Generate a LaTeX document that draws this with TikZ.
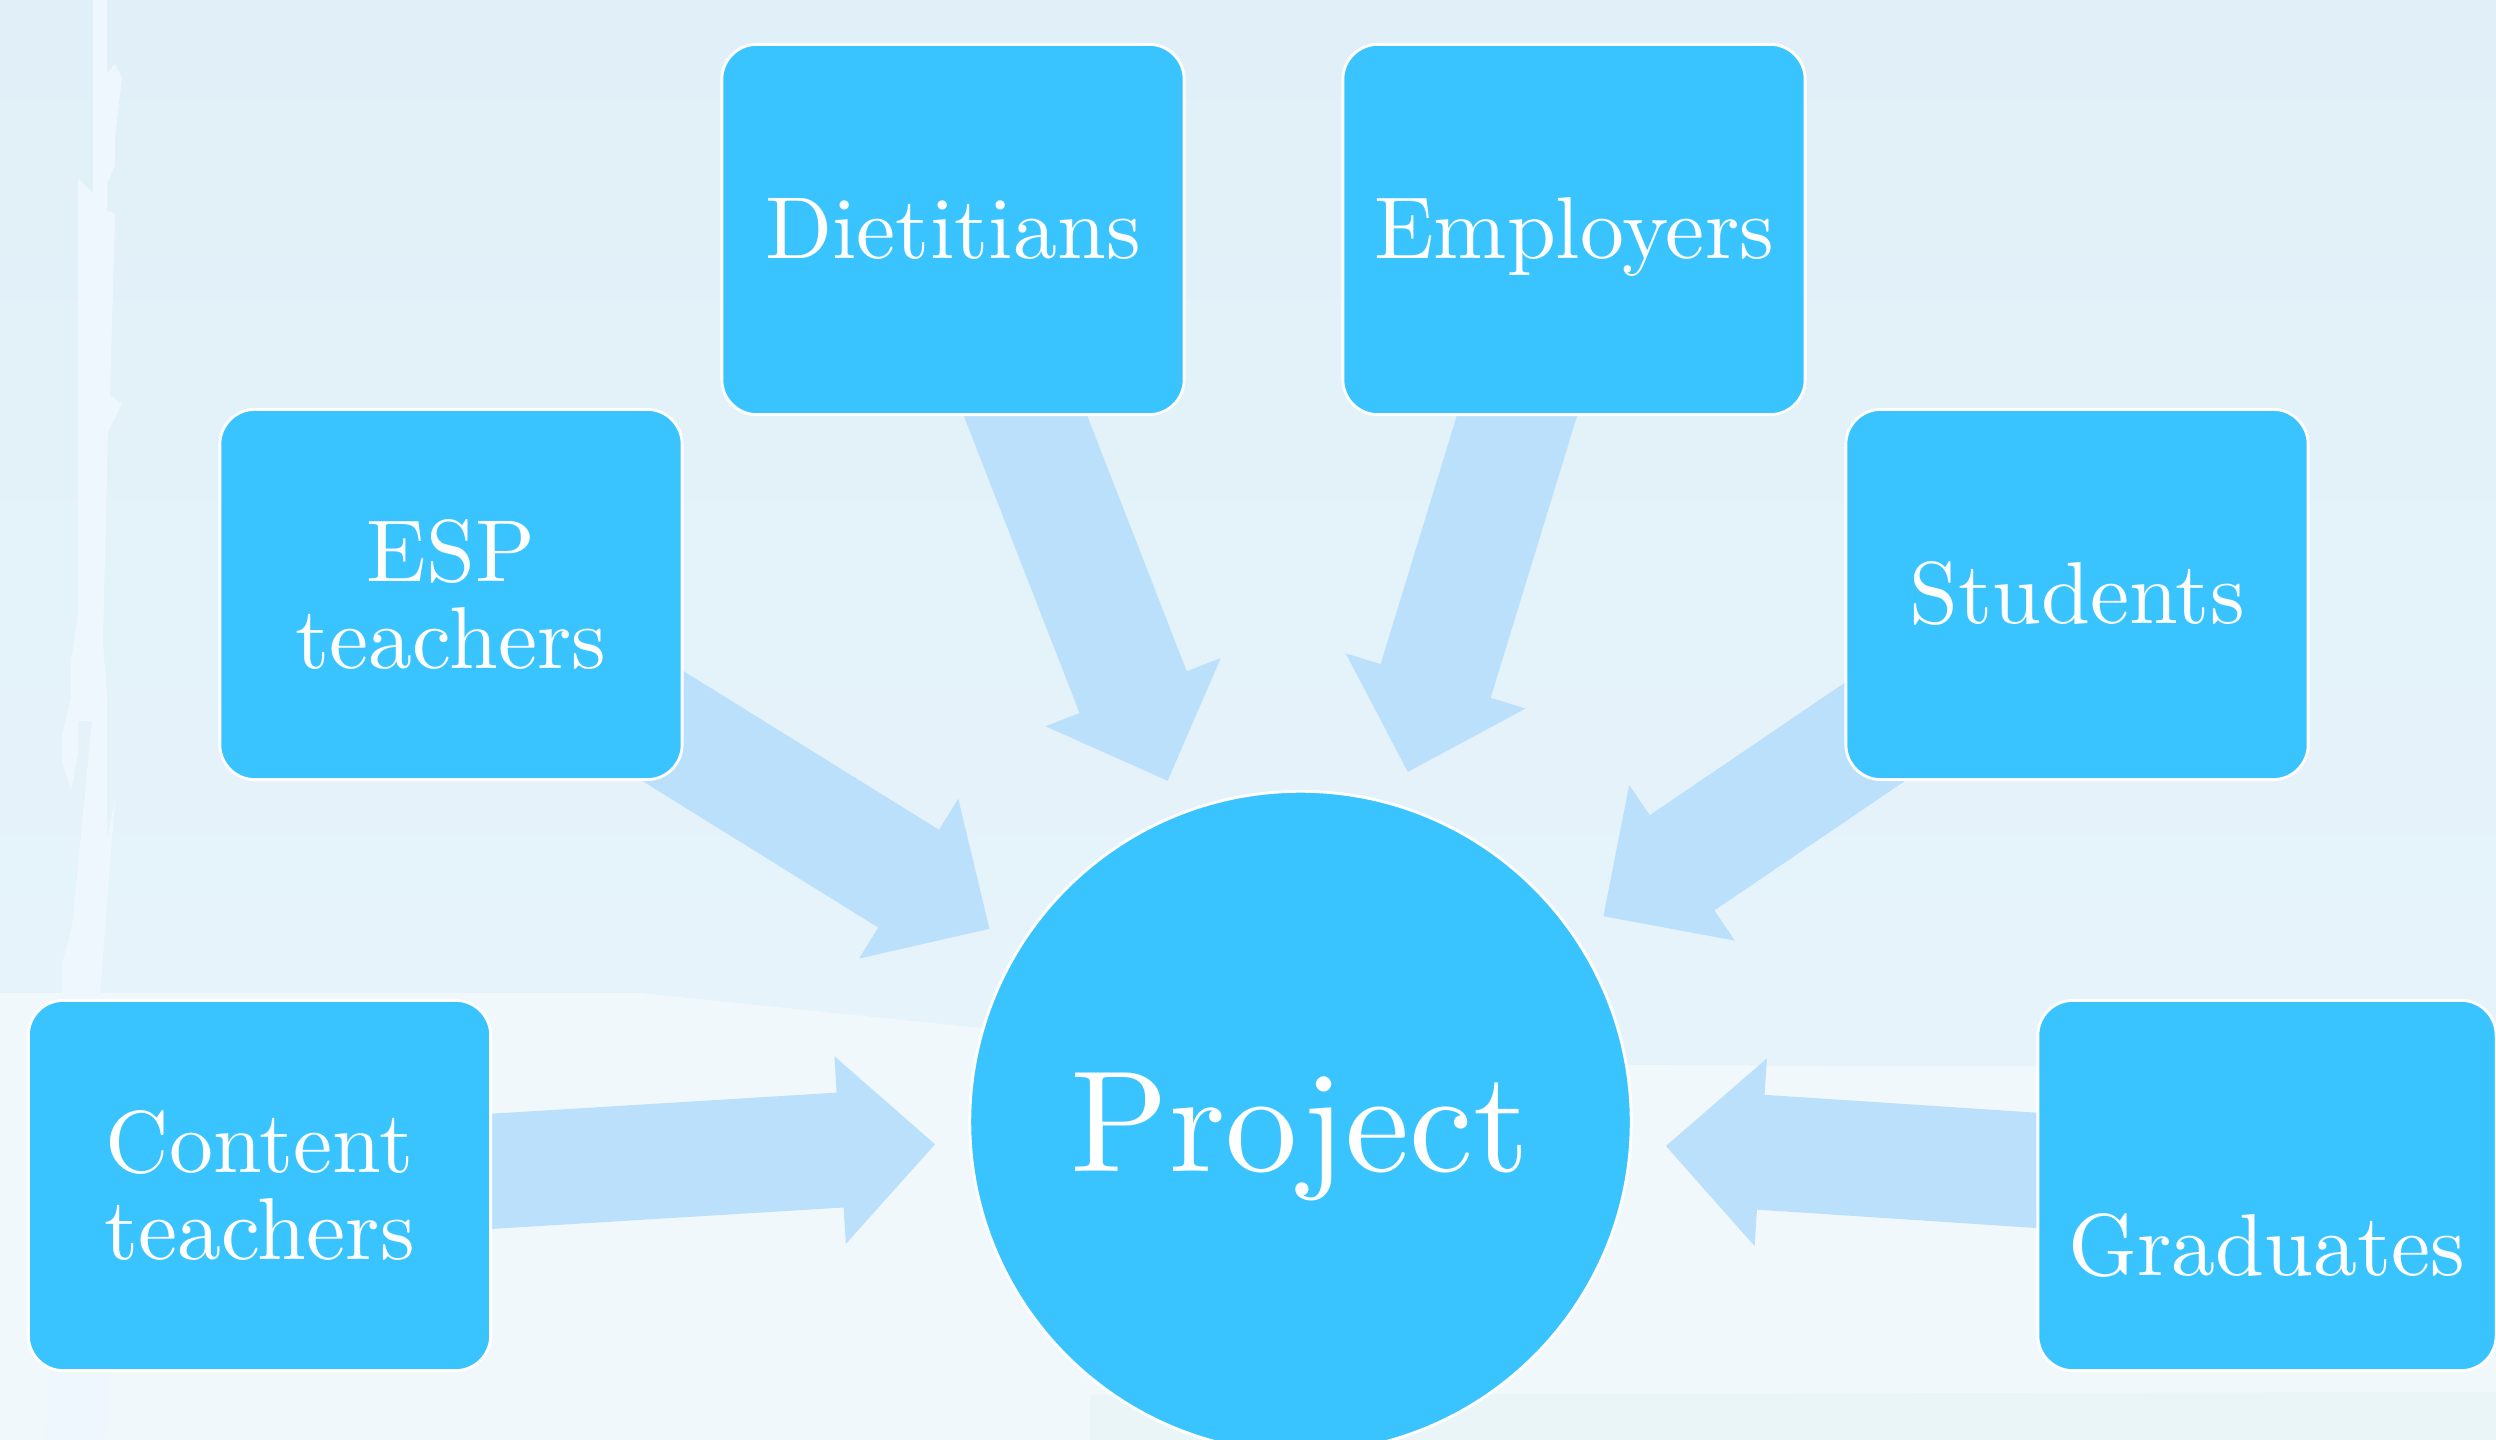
\documentclass[tikz,border=0pt]{standalone}
\usetikzlibrary{calc}
\definecolor{boxblue}{RGB}{57,196,255}
\definecolor{arrowblue}{RGB}{187,224,252}
\definecolor{bgtop}{RGB}{225,240,248}
\definecolor{bgmid}{RGB}{230,243,250}
\definecolor{bglow}{RGB}{241,248,252}
\definecolor{bgband}{RGB}{234,245,247}
\definecolor{streak}{RGB}{238,247,253}
\font\boxfnt="[lmroman10-regular]:mapping=tex-text" at 25pt
\font\projfnt="[lmroman10-regular]:mapping=tex-text" at 41pt
\pgfdeclarelayer{bglayer}
\pgfdeclarelayer{arrowlayer}
\pgfsetlayers{bglayer,arrowlayer,main}
\tikzset{
  stakebox/.style={draw=white, line width=0.8pt, fill=boxblue, rounded corners=0.35cm,
    minimum width=4.62cm, minimum height=3.70cm, inner sep=0pt, text=white,
    font={\boxfnt\baselineskip=25pt\relax}, align=center},
  oneline/.style={text height=16.5pt, text depth=0pt},
  projcircle/.style={circle, draw=white, line width=0.8pt, fill=boxblue, minimum size=6.61cm,
    inner sep=0pt, text=white, font=\projfnt, text height=28.4pt, text depth=0pt},
  arrowfill/.style={fill=arrowblue}
}
\newcommand\flowarrow[1]{%
  \coordinate (#1-tip) at ($(proj.center)!3.66cm!(#1.center)$);
  \coordinate (#1-neck) at ($(#1-tip)!0.95cm!(#1.center)$);
  \fill[arrowfill] ($(#1.center)!0.575cm!90:(#1-tip)$) -- ($(#1-neck)!0.575cm!90:(#1-tip)$)
    -- ($(#1-neck)!0.94cm!90:(#1-tip)$) -- (#1-tip) -- ($(#1-neck)!0.94cm!-90:(#1-tip)$)
    -- ($(#1-neck)!0.575cm!-90:(#1-tip)$) -- ($(#1.center)!0.575cm!-90:(#1-tip)$) -- cycle;}
\begin{document}
\begin{tikzpicture}[x=0.01cm,y=-0.01cm]
\useasboundingbox (0,0) rectangle (2496,1440);
\begin{pgfonlayer}{bglayer}
  \fill[bgmid] (0,0) rectangle (2496,1440);
  \shade[top color=bgtop, bottom color=bgmid] (0,0) rectangle (2496,1000);
  \fill[bglow] (0,993) -- (640,993) -- (1000,1030) -- (1600,1065) -- (2496,1068)
    -- (2496,1440) -- (0,1440) -- cycle;
  \fill[bgband] (1090,1395) -- (2496,1392) -- (2496,1440) -- (1090,1440) -- cycle;
  \fill[streak] (93,0) -- (107,0) -- (107,73) -- (115,64) -- (122,78) -- (115,138) -- (115,165)
    -- (107,184) -- (107,211) -- (115,213) -- (110,395) -- (122,404) -- (108,432) -- (103,643)
    -- (107,693) -- (107,840) -- (115,799) -- (100,995) -- (62,1001) -- (62,964) -- (72,927)
    -- (92,721) -- (78,721) -- (78,753) -- (71,790) -- (62,762) -- (62,735) -- (71,698)
    -- (71,661) -- (78,615) -- (78,179) -- (93,193) -- cycle;
  \fill[streak] (50,1370) -- (110,1370) -- (104,1440) -- (46,1440) -- cycle;
\end{pgfonlayer}

\node[projcircle] (proj) at (1300.5,1122) {Project};

\node[stakebox, oneline] (diet) at (953,229.5) {Dietitians};
\node[stakebox, oneline] (empl) at (1574,229.5) {Employers};
\node[stakebox] (esp) at (451,594.5) {ESP\\teachers};
\node[stakebox, oneline] (stud) at (2077,594.5) {Students};
\node[stakebox] (cont) at (259.5,1185.5) {Content\\teachers};
\node[stakebox, minimum width=4.58cm, text height=51pt, text depth=0pt] (grad) at (2267,1185.5) {Graduates};

\begin{pgfonlayer}{arrowlayer}
  \flowarrow{diet}
  \flowarrow{empl}
  \flowarrow{esp}
  \flowarrow{stud}
  \flowarrow{cont}
  \flowarrow{grad}
\end{pgfonlayer}
\end{tikzpicture}
\end{document}
